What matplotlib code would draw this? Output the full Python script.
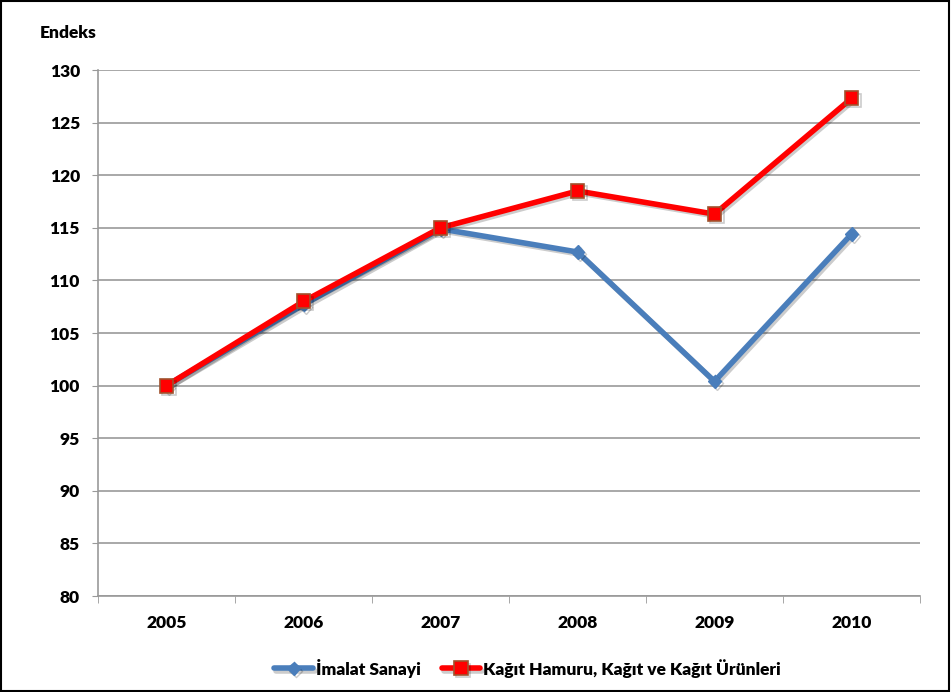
import numpy as np
import matplotlib.pyplot as plt
import matplotlib.patheffects as pe

# ---------------- DATA ----------------
years = ['2005', '2006', '2007', '2008', '2009', '2010']
imalat = [100.0, 107.7, 114.9, 112.7, 100.4, 114.4]
kagit = [100.0, 108.0, 115.0, 118.5, 116.3, 127.3]
y_ticks = [80, 85, 90, 95, 100, 105, 110, 115, 120, 125, 130]
# --------------------------------------

plt.rcParams['font.family'] = ['Lato', 'DejaVu Sans']
plt.rcParams['font.weight'] = 'bold'
FS = 12.5

fig = plt.figure(figsize=(9.51, 6.92), dpi=100)
ax = fig.add_axes([98 / 951, 1 - 596 / 692, 822 / 951, 526 / 692])

x = np.arange(len(years))
shadow = [pe.SimpleLineShadow(offset=(1.5, -1.5), alpha=0.2), pe.Normal()]

ax.plot(x, imalat, color='#4a7ebb', lw=4, marker='D', ms=7,
        mfc='#4a7ebb', mec='#4a7ebb', label='İmalat Sanayi',
        solid_capstyle='round', path_effects=shadow, zorder=3)
ax.plot(x, kagit, color='#ff0000', lw=4, marker='s', ms=10,
        mfc='#ff0000', mec='#a0522d', mew=1.2,
        label='Kağıt Hamuru, Kağıt ve Kağıt Ürünleri',
        solid_capstyle='round', path_effects=shadow, zorder=4)

ax.set_xlim(-0.5, len(years) - 0.5)
ax.set_ylim(80, 130)
ax.set_yticks(y_ticks)
ax.set_yticklabels([str(t) for t in y_ticks], fontsize=FS, fontweight='heavy')
ax.set_xticks(x)
ax.set_xticklabels(years, fontsize=FS, fontweight='heavy')
ax.tick_params(axis='x', length=0, pad=14)
ax.set_xticks(np.arange(-0.5, len(years)), minor=True)
ax.tick_params(axis='x', which='minor', length=5, color='#999999', direction='out')
ax.tick_params(axis='y', length=4.5, color='#999999', direction='out', pad=8.5)

ax.grid(axis='y', color='#9a9a9a', lw=1.2)
ax.set_axisbelow(True)
for s in ['top', 'right']:
    ax.spines[s].set_visible(False)
for s in ['left', 'bottom']:
    ax.spines[s].set_color('#999999')
    ax.spines[s].set_linewidth(1.2)

fig.text(40 / 951, 1 - 33 / 692, 'Endeks', fontsize=FS, fontweight='heavy',
         va='center', ha='left')

leg = fig.legend(loc='center', bbox_to_anchor=(0.555, 1 - 668 / 692), ncol=2,
                 frameon=False, fontsize=FS, handlelength=2.2,
                 handletextpad=0.2, columnspacing=1.2)
for t in leg.get_texts():
    t.set_fontweight('heavy')

# figure frame
fig.patches.append(plt.Rectangle((0.001, 0.001), 0.997, 0.997, transform=fig.transFigure,
                                 fill=False, edgecolor='black', lw=1.5))

fig.savefig('out.png', dpi=100)
